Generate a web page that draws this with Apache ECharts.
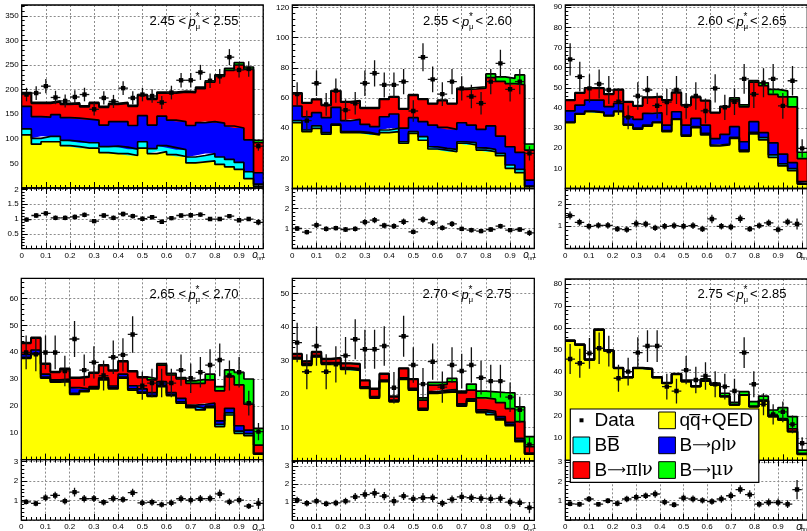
<!DOCTYPE html>
<html><head><meta charset="utf-8">
<script src="https://cdn.jsdelivr.net/npm/echarts@6/dist/echarts.min.js"></script>
<style>html,body{margin:0;padding:0;background:#fff}#c{width:807px;height:531px}</style>
</head><body><div id="c"></div>
<script>
// ---------- bins ----------
const binEdges = ['0','0.04','0.08','0.12','0.16','0.2','0.24','0.28','0.32','0.36','0.4','0.44','0.48','0.52','0.56','0.6','0.64','0.68','0.72','0.76','0.8','0.84','0.88','0.92','0.96','1'];
const binCenters = ['0.02','0.06','0.1','0.14','0.18','0.22','0.26','0.3','0.34','0.38','0.42','0.46','0.5','0.54','0.58','0.62','0.66','0.7','0.74','0.78','0.82','0.86','0.9','0.94','0.98'];
const pLow  = ['2.45','2.55','2.60','2.65','2.70','2.75'];
const pHigh = ['2.55','2.60','2.65','2.70','2.75','2.85'];
const compNames = ['qq\u0305+QED','BB\u0305','B\u27f6\u03c1l\u03bd','B\u27f6\u03c0l\u03bd','B\u27f6\u03bc\u03bd'];

// ---------- panel 1 : 2.45 < p < 2.55 ----------
const p1_qq  = [108,89,94,94,86,84,81,81,72,70,70,66,81,70,74,68,64,51,53,55,48,43,38,19,4];
const p1_bb  = [12,12,11,11,11,11,11,11,12,15,13,13,13,10,12,14,14,12,13,15,15,15,14,14,4];
const p1_rho = [46,44,39,44,46,47,48,46,44,50,52,48,53,48,60,56,57,64,67,65,69,68,70,65,23];
const p1_pi  = [26,27,28,26,27,29,25,34,36,35,37,39,41,52,47,55,60,67,69,80,95,113,128,143,61];
const p1_mu  = [2,2,2,2,2,2,2,2,2,2,2,2,2,2,2,2,2,2,3,3,3,4,5,5,5];
const p1_data = [190,193,207,184,177,185,190,160,183,176,203,183,190,187,174,194,219,219,235,218,227,266,240,242,85];
const p1_err  = [13.8,13.9,14.4,13.6,13.3,13.6,13.8,12.6,13.5,13.3,14.2,13.5,13.8,13.7,13.2,13.9,14.8,14.8,15.3,14.8,15.1,16.3,15.5,15.6,9.2];
const p1_ratio = [0.98,1.12,1.19,1.04,1.04,1.07,1.14,0.93,1.12,1.04,1.17,1.1,1.01,1.06,0.91,1.03,1.12,1.13,1.15,1.0,1.0,1.1,0.96,1.0,0.89];
const p1_ratioErr = [0.07,0.08,0.08,0.08,0.08,0.08,0.08,0.07,0.08,0.08,0.08,0.08,0.07,0.07,0.07,0.07,0.07,0.07,0.07,0.07,0.07,0.07,0.06,0.06,0.1];

// ---------- panel 2 : 2.55 < p < 2.60 ----------
const p2_qq  = [43.6,37.7,39.9,36,42,37,37,36.6,35.5,37,37.7,30,36.6,32,26.2,25.5,24.4,30,28.9,25.5,24.4,21.8,13.4,10.5,1.2];
const p2_bb  = [1.4,1.1,1.6,1,0.7,0.7,0.7,0.7,0.5,1.8,2.2,1,1.1,2.4,1.5,1.1,1.6,1,1.5,1.5,1.6,1.5,2.2,2.2,0.4];
const p2_rho = [9.7,8.8,8.8,10,11.1,7.3,8.2,5.2,5,8.8,9.5,9,9.3,9.9,14.3,13.9,13.2,12.6,11.6,12.2,15.5,11.5,12.1,11.3,4];
const p2_pi  = [8.4,9,8.6,8.1,10.8,12.2,12,10.7,12.2,11.5,11.2,12.6,14.8,14.8,14.1,17.8,16.9,22.1,24,27.3,32,36.2,41.8,44.8,19.9];
const p2_mu  = [0.4,0.4,0.4,0.4,0.4,0.4,0.4,0.4,0.4,0.4,0.4,0.4,0.4,0.4,0.4,0.4,0.4,0.8,1,1,2.5,3,3.5,6.5,4];
const p2_data = [62.6,45,69.8,55.8,64.9,52,56.5,69.8,76.4,68.7,68.7,70.9,51.4,87,72.4,62.6,70.9,66.4,61,56.5,70.9,83,65.8,70.9,23.3];
const p2_err  = [7.9,6.7,8.4,7.5,8.1,7.2,7.5,8.4,8.7,8.3,8.3,8.4,7.2,9.3,8.5,7.9,8.4,8.1,7.8,7.5,8.4,9.1,8.1,8.4,4.8];
const p2_ratio = [1.0,0.82,1.17,0.98,1.02,0.95,0.98,1.32,1.42,1.15,1.12,1.34,0.83,1.45,1.28,1.03,1.23,0.98,0.92,0.87,0.95,1.12,0.92,0.95,0.78];
const p2_ratioErr = [0.12,0.12,0.14,0.13,0.12,0.13,0.13,0.16,0.16,0.14,0.14,0.16,0.12,0.16,0.15,0.13,0.15,0.12,0.12,0.11,0.11,0.12,0.11,0.11,0.16];

// ---------- panel 3 : 2.60 < p < 2.65 ----------
const p3_qq  = [32.7,36.9,38.1,37.6,36,38.1,31.5,29.5,31,32.7,28.2,34.3,26,30.2,26.6,21.1,21.6,24.9,18.3,27.1,24.1,15.5,11.2,8.9,2.2];
const p3_bb  = [0.3,0.3,0.3,0.3,0.3,0.3,0.3,0.5,0.5,0.3,0.5,0.3,0.5,0.5,0.8,0.5,0.5,0.5,0.8,0.8,1.2,1.2,1,1,0.3];
const p3_rho = [5.5,4.2,5.5,6,4.3,3.9,3.8,4.3,5.8,4.6,2.8,3.5,5,4.1,4.1,3.2,4.8,5.3,4.1,5.3,2.4,6,4.9,2.9,0.9];
const p3_pi  = [5.2,5.9,5.8,5.8,6.1,6.6,7.3,6.6,7.8,7.9,12.2,9.4,9.7,10.4,12,12.7,13.6,13.3,17.3,19.6,23.3,24,28.4,27.7,11.4];
const p3_mu  = [0.3,0.3,0.3,0.3,0.3,0.3,0.3,0.3,0.3,0.3,0.3,0.3,0.3,0.3,0.3,0.3,0.3,1,1,0.8,1.5,2.5,3,5,3.2];
const p3_data = [64.1,55.5,49.7,51.9,48.9,43.1,35.3,45.9,48.9,41.1,42.9,48.9,41,45.9,38.5,49.7,40.3,43.1,54.4,46.8,52.5,54.4,41,53.5,19.9];
const p3_err  = [8,7.4,7,7.2,7,6.6,5.9,6.8,7,6.4,6.5,7,6.4,6.8,6.2,7,6.3,6.6,7.4,6.8,7.2,7.4,6.4,7.3,4.5];
const p3_ratio = [1.48,1.18,1.0,1.04,1.04,0.88,0.85,1.12,1.1,0.93,1.0,1.03,1.0,1.03,0.88,1.33,1.0,0.97,1.34,0.88,1.03,1.15,0.85,1.19,1.1];
const p3_ratioErr = [0.18,0.16,0.14,0.14,0.15,0.13,0.14,0.17,0.15,0.14,0.15,0.15,0.15,0.15,0.14,0.19,0.15,0.15,0.18,0.13,0.14,0.15,0.13,0.16,0.25];

// ---------- panel 4 : 2.65 < p < 2.70 ----------
const p4_qq  = [37.7,39.2,30.3,28.8,29,24.3,25.3,26.3,29.7,26.3,30.3,25.9,24.7,23.5,27.2,23.8,21,19.3,18.5,19.3,12.3,16.6,9.8,8.9,2];
const p4_bb  = [0.4,0.4,0.4,0.4,0.4,0.4,0.4,0.4,0.4,0.4,0.4,0.4,0.4,0.4,0.4,0.4,0.5,0.5,0.6,0.6,0.8,0.8,0.8,0.8,0.2];
const p4_rho = [1.1,1.2,1.1,0.5,0.6,2.1,0.6,0.5,0.4,0.7,1.1,1.2,1.2,1,1.4,0.7,1.3,0.5,1.5,1.1,1.3,1.7,2,1.3,0.1];
const p4_pi  = [4.1,4.4,3.7,2.8,3.7,3.5,4.4,5,4.5,5.6,4.7,5.2,4.2,4.8,6.2,6.6,7.2,8.1,7.8,8.7,11.2,11.8,15.2,9.6,3.1];
const p4_mu  = [0.3,0.3,0.3,0.3,0.3,0.3,0.3,0.3,0.3,0.3,0.3,0.3,0.3,0.5,0.5,0.6,0.5,0.9,1.5,2.1,1.6,2.5,4.7,9.4,6.2];
const p4_data = [39.9,39.2,39.9,39.9,33,44.9,33.3,36.2,31.3,38.1,39,46.6,27.5,28.5,28.5,28.5,33.3,30.3,32.5,35.2,37.1,31.3,32.5,21,10.4];
const p4_err  = [6.3,6.3,6.3,6.3,5.7,6.7,5.8,6,5.6,6.2,6.2,6.8,5.2,5.3,5.3,5.3,5.8,5.5,5.7,5.9,6.1,5.6,5.7,4.6,3.2];
const p4_ratio = [0.93,0.85,1.14,1.26,0.97,1.43,1.09,1.1,0.91,1.1,1.05,1.4,0.88,0.91,0.79,0.88,1.09,1.02,1.09,1.1,1.34,0.93,1.02,0.71,0.85];
const p4_ratioErr = [0.14,0.14,0.18,0.19,0.17,0.22,0.19,0.18,0.16,0.19,0.17,0.21,0.17,0.18,0.15,0.17,0.19,0.19,0.19,0.19,0.22,0.17,0.18,0.15,0.28];

// ---------- panel 5 : 2.70 < p < 2.75 ----------
const p5_qq  = [30.4,28.5,31,28.8,28.8,27.3,27,21.6,18.7,23.6,17.6,24.3,21.1,15.1,20.1,20.4,20.6,16.3,17.8,14.4,13.8,12.2,10.5,5.7,2];
const p5_bb  = [0.2,0.2,0.2,0.2,0.2,0.2,0.2,0.2,0.2,0.2,0.2,0.2,0.2,0.3,0.3,0.3,0.3,0.3,0.3,0.3,0.4,0.4,0.4,0.4,0.1];
const p5_rho = [0.3,0.3,0.3,0.3,0.3,0.3,0.3,0.3,0.3,0.3,0.3,0.3,0.3,0.3,0.3,0.4,0.4,0.4,0.4,0.5,0.6,0.6,0.6,0.6,0.2];
const p5_pi  = [0.9,0.6,0.9,1,1.3,1.2,1.3,1.8,2.2,1.8,1,2.7,2.7,2.4,1.9,1.7,2.3,3.3,2.6,3.6,3.6,4.2,4.1,5,1.9];
const p5_mu  = [0.2,0.2,0.2,0.2,0.2,0.2,0.2,0.2,0.2,0.2,0.2,0.2,0.2,0.7,0.8,0.6,1,0.5,1.8,2,2.2,3,4.7,4.4,3];
const p5_data = [35.3,26.6,34.3,26.6,28.8,31.4,36.3,33.3,33.3,34.3,21.8,37.2,28.6,22.9,29.6,22,28.6,26.8,28.6,24.8,23.8,23.8,19,15.2,4.8];
const p5_err  = [5.9,5.2,5.9,5.2,5.4,5.6,6,5.8,5.8,5.9,4.7,6.1,5.3,4.8,5.4,4.7,5.3,5.2,5.3,5,4.9,4.9,4.4,3.9,2.2];
const p5_ratio = [1.11,0.93,1.05,0.91,0.95,1.05,1.29,1.42,1.49,1.33,1.05,1.33,1.18,1.24,1.24,0.93,1.15,1.29,1.24,1.2,1.18,1.2,1.0,0.96,0.69];
const p5_ratioErr = [0.18,0.18,0.18,0.17,0.18,0.19,0.21,0.24,0.27,0.23,0.25,0.22,0.22,0.26,0.23,0.2,0.22,0.25,0.23,0.24,0.24,0.24,0.22,0.24,0.31];

// ---------- panel 6 : 2.75 < p < 2.85 ----------
const p6_qq  = [54.1,52.3,45.5,59.1,49.6,41.7,37.5,41.7,41.3,37.5,34.9,39,35.7,33.4,36,34.2,28.9,25.1,29.5,24.3,26.9,19.8,18.3,13,2.7];
const p6_bb  = [0.05,0.05,0.05,0.05,0.05,0.05,0.05,0.05,0.05,0.05,0.05,0.05,0.05,0.05,0.05,0.05,0.05,0.05,0.05,0.05,0.05,0.05,0.05,0.05,0.05];
const p6_rho = [0.05,0.05,0.05,0.05,0.05,0.05,0.05,0.05,0.05,0.05,0.05,0.05,0.05,0.05,0.05,0.05,0.05,0.05,0.05,0.05,0.05,0.05,0.05,0.05,0.05];
const p6_pi  = [0.1,0.1,0.1,0.1,0.1,0.1,0.1,0.1,0.1,0.1,0.1,0.1,0.1,0.1,0.1,0.1,0.1,0.1,0.1,0.1,0.3,0.4,0.5,1.2,0.3];
const p6_mu  = [0.15,0.15,0.15,0.15,0.15,0.15,0.15,0.15,0.15,0.15,0.15,0.15,0.5,0.2,0.7,0.6,1.3,1,1.4,2.1,1.8,2.5,5,5.5,1.5];
const p6_data = [45.9,44,48.5,50.8,49.5,37.2,40.2,48.8,51.8,51.8,33.4,31.4,40.9,36.4,38.2,34.5,33.4,31.4,48.8,34.5,25.4,20.8,22,16.3,7.7];
const p6_err  = [6.8,6.6,7,7.1,7,6.1,6.3,7,7.2,7.2,5.8,5.6,6.4,6,6.2,5.9,5.8,5.6,7,5.9,5,4.6,4.7,4,2.8];
const p6_ratio = [0.84,0.82,1.09,0.82,1.0,0.86,1.09,1.18,1.26,1.35,0.93,0.79,1.14,1.09,1.02,0.96,1.09,1.26,1.58,1.32,0.82,0.91,0.91,0.82,1.58];
const p6_ratioErr = [0.13,0.13,0.15,0.12,0.14,0.15,0.17,0.17,0.17,0.19,0.17,0.14,0.18,0.18,0.16,0.17,0.19,0.21,0.22,0.22,0.17,0.2,0.2,0.2,0.5];

// ---------- assembly ----------
const panels = [
  {comps:[p1_qq,p1_bb,p1_rho,p1_pi,p1_mu], data:p1_data, err:p1_err, ratio:p1_ratio, ratioErr:p1_ratioErr},
  {comps:[p2_qq,p2_bb,p2_rho,p2_pi,p2_mu], data:p2_data, err:p2_err, ratio:p2_ratio, ratioErr:p2_ratioErr},
  {comps:[p3_qq,p3_bb,p3_rho,p3_pi,p3_mu], data:p3_data, err:p3_err, ratio:p3_ratio, ratioErr:p3_ratioErr},
  {comps:[p4_qq,p4_bb,p4_rho,p4_pi,p4_mu], data:p4_data, err:p4_err, ratio:p4_ratio, ratioErr:p4_ratioErr},
  {comps:[p5_qq,p5_bb,p5_rho,p5_pi,p5_mu], data:p5_data, err:p5_err, ratio:p5_ratio, ratioErr:p5_ratioErr},
  {comps:[p6_qq,p6_bb,p6_rho,p6_pi,p6_mu], data:p6_data, err:p6_err, ratio:p6_ratio, ratioErr:p6_ratioErr}
];
const compColors = ['#ffff00','#00ffff','#0000ff','#ff0000','#00ff00'];
const layout = [
  {left:21.7,  width:241.5, mainTop:5,     mainH:183,   ratioH:60.6},
  {left:292.3, width:242,   mainTop:5,     mainH:183.5, ratioH:60},
  {left:565.3, width:242,   mainTop:5,     mainH:183.5, ratioH:60},
  {left:21.3,  width:242,   mainTop:278.3, mainH:181.3, ratioH:60.6},
  {left:292.3, width:242,   mainTop:278.3, mainH:182.5, ratioH:59.5},
  {left:565.3, width:242,   mainTop:279,   mainH:181.3, ratioH:59.7}
];
const axisCfg = [
  {yMax:372,   yInt:50, rMax:2.05, rInt:0.5, rShowMax:false},
  {yMax:121.7, yInt:20, rMax:3,    rInt:1,   rShowMax:true},
  {yMax:91.1,  yInt:10, rMax:2.7,  rInt:1,   rShowMax:false},
  {yMax:67.5,  yInt:10, rMax:3.1,  rInt:1,   rShowMax:false},
  {yMax:54.5,  yInt:10, rMax:3.3,  rInt:1,   rShowMax:false},
  {yMax:82.2,  yInt:10, rMax:3.1,  rInt:1,   rShowMax:false}
];
const titlePos = [[186,21],[459.5,21],[734,21],[186,294],[459,294],[734,294]];
const FONT = '"Liberation Sans", Arial, Helvetica, sans-serif';
const gridLine = {show:true, lineStyle:{color:'#8c8c8c', type:[2,2], width:1}};

const grids = [], xAxes = [], yAxes = [], series = [], graphic = [];

function valueX(g, opts) {
  return Object.assign({
    type:'value', gridIndex:g, min:0, max:1, interval:0.1, position:'bottom',
    axisLine:{show:false, onZero:false},
    axisTick:{show:false, inside:true, length:6, lineStyle:{color:'#000'}},
    minorTick:{show:false, splitNumber:5, length:3, lineStyle:{color:'#000'}},
    splitLine:{show:false},
    axisLabel:{show:false, fontSize:8, color:'#000', margin:4, fontFamily:FONT}
  }, opts);
}

function errorSeries(xi, yi, vals, errs) {
  return {
    type:'custom', xAxisIndex:xi, yAxisIndex:yi, clip:true, z:6, silent:true,
    data: vals.map((v,i)=>[i, v, errs[i]]),
    renderItem(params, api) {
      const x = api.value(0), y = api.value(1), e = api.value(2);
      const c = api.coord([x, y]);
      const lo = api.coord([x, y - e]);
      const hi = api.coord([x, y + e]);
      const hw = api.size([1, 0])[0] / 2;
      return {type:'group', children:[
        {type:'line', shape:{x1:c[0], y1:lo[1], x2:c[0], y2:hi[1]}, style:{stroke:'#111', lineWidth:1.3}},
        {type:'line', shape:{x1:c[0]-hw, y1:c[1], x2:c[0]+hw, y2:c[1]}, style:{stroke:'#111', lineWidth:1.3}},
        {type:'rect', shape:{x:c[0]-2.2, y:c[1]-2.2, width:4.4, height:4.4}, style:{fill:'#000'}}
      ]};
    }
  };
}

panels.forEach((D, p) => {
  const L = layout[p], A = axisCfg[p];
  const gM = grids.length;
  grids.push({left:L.left, top:L.mainTop, width:L.width, height:L.mainH, show:false});
  const gR = grids.length;
  grids.push({left:L.left, top:L.mainTop + L.mainH, width:L.width, height:L.ratioH, show:false});

  const xEdge = xAxes.length; xAxes.push({type:'category', gridIndex:gM, data:binEdges, boundaryGap:false, show:false, position:'top'});
  const xBin  = xAxes.length; xAxes.push({type:'category', gridIndex:gM, data:binCenters, boundaryGap:true, show:false, position:'top'});
  xAxes.push(valueX(gM, {splitLine:gridLine, z:0}));
  xAxes.push(valueX(gM, {z:8, axisTick:{show:true, inside:true, length:6, lineStyle:{color:'#000'}}, minorTick:{show:true, splitNumber:5, length:3, lineStyle:{color:'#000'}}}));
  const xBinR = xAxes.length; xAxes.push({type:'category', gridIndex:gR, data:binCenters, boundaryGap:true, show:false, position:'top'});
  xAxes.push(valueX(gR, {splitLine:gridLine,
    axisTick:{show:true, inside:true, length:6, lineStyle:{color:'#000'}},
    minorTick:{show:true, splitNumber:5, length:3, lineStyle:{color:'#000'}},
    axisLabel:{show:true, fontSize:8, color:'#000', margin:3, fontFamily:FONT}}));
  xAxes.push(valueX(gR, {position:'top', z:8,
    axisTick:{show:true, inside:true, length:6, lineStyle:{color:'#000'}},
    minorTick:{show:true, splitNumber:5, length:3, lineStyle:{color:'#000'}}}));

  const yM = yAxes.length;
  yAxes.push({type:'value', gridIndex:gM, min:0, max:A.yMax, interval:A.yInt, position:'left',
    axisLine:{show:false, onZero:false},
    axisTick:{show:true, inside:true, length:6, lineStyle:{color:'#000'}},
    minorTick:{show:true, splitNumber:5, length:3, lineStyle:{color:'#000'}},
    splitLine:gridLine,
    axisLabel:{fontSize:8, color:'#000', margin:3, fontFamily:FONT, showMinLabel:false, showMaxLabel:false}});
  const yR = yAxes.length;
  yAxes.push({type:'value', gridIndex:gR, min:0, max:A.rMax, interval:A.rInt, position:'left',
    axisLine:{show:false, onZero:false},
    axisTick:{show:true, inside:true, length:6, lineStyle:{color:'#000'}},
    minorTick:{show:true, splitNumber:5, length:3, lineStyle:{color:'#000'}},
    splitLine:gridLine,
    axisLabel:{fontSize:8, color:'#000', margin:3, fontFamily:FONT, showMinLabel:false, showMaxLabel:A.rShowMax}});

  // stacked fills
  D.comps.forEach((vals, k) => {
    series.push({type:'line', name:compNames[k], xAxisIndex:xEdge, yAxisIndex:yM, stack:'fill'+p, step:'end',
      symbol:'none', data:vals.concat([vals[vals.length-1]]), lineStyle:{width:0, opacity:0},
      areaStyle:{color:compColors[k], opacity:1}, z:2, silent:true});
  });
  // stacked outlines
  D.comps.forEach((vals, k) => {
    series.push({type:'line', name:compNames[k], xAxisIndex:xEdge, yAxisIndex:yM, stack:'line'+p, step:'end',
      symbol:'none', data:vals.concat([vals[vals.length-1]]), lineStyle:{color:'#000', width:1.7},
      z:4, silent:true});
  });
  series.push(errorSeries(xBin, yM, D.data, D.err));
  series.push(errorSeries(xBinR, yR, D.ratio, D.ratioErr));

  // frames
  graphic.push({type:'rect', silent:true, z:100, shape:{x:L.left, y:L.mainTop, width:L.width, height:L.mainH}, style:{fill:null, stroke:'#000', lineWidth:1.3}});
  graphic.push({type:'rect', silent:true, z:100, shape:{x:L.left, y:L.mainTop+L.mainH, width:L.width, height:L.ratioH}, style:{fill:null, stroke:'#000', lineWidth:1.3}});

  // title
  const [tx, ty] = titlePos[p];
  graphic.push({type:'text', silent:true, z:90, x:tx, y:ty, style:{text:pLow[p]+' <', fontSize:13, fontFamily:FONT, fill:'#000', align:'right', verticalAlign:'middle'}});
  graphic.push({type:'text', silent:true, z:90, x:tx+2.5, y:ty+1, style:{text:'p', fontSize:13, fontStyle:'italic', fontFamily:FONT, fill:'#000', align:'left', verticalAlign:'middle'}});
  graphic.push({type:'text', silent:true, z:90, x:tx+9.5, y:ty-4, style:{text:'*', fontSize:10, fontFamily:FONT, fill:'#000', align:'left', verticalAlign:'middle'}});
  graphic.push({type:'text', silent:true, z:90, x:tx+9.5, y:ty+6, style:{text:'\u03bc', fontSize:8, fontFamily:FONT, fill:'#000', align:'left', verticalAlign:'middle'}});
  graphic.push({type:'text', silent:true, z:90, x:tx+16, y:ty, style:{text:'< '+pHigh[p], fontSize:13, fontFamily:FONT, fill:'#000', align:'left', verticalAlign:'middle'}});

  // x-axis title
  const nx = L.left + L.width - 11, ny = L.mainTop + L.mainH + L.ratioH + 7;
  graphic.push({type:'text', silent:true, z:90, x:nx, y:ny, style:{text:'o', fontSize:10, fontStyle:'italic', fontFamily:FONT, fill:'#000', align:'left', verticalAlign:'middle'}});
  graphic.push({type:'text', silent:true, z:90, x:nx+5, y:ny+3, style:{text:'nn', fontSize:5, fontFamily:FONT, fill:'#000', align:'left', verticalAlign:'middle'}});
});

// legend box (in the last panel)
const legItems = [
  {label:'{n|Data}', marker:'data', col:0, row:0},
  {label:'{n|qq\u0305+QED}', color:compColors[0], col:1, row:0},
  {label:'{n|BB\u0305}', color:compColors[1], col:0, row:1},
  {label:'{n|B}{a|\u27f6}{g|\u03c1}{n|l}{g|\u03bd}', color:compColors[2], col:1, row:1},
  {label:'{n|B}{a|\u27f6}{g|\u03c0}{n|l}{g|\u03bd}', color:compColors[3], col:0, row:2},
  {label:'{n|B}{a|\u27f6}{g|\u03bc\u03bd}', color:compColors[4], col:1, row:2}
];
const legRich = {
  n:{fontSize:19, fontFamily:FONT, fill:'#000'},
  a:{fontSize:13, fontFamily:'"DejaVu Sans", sans-serif', fill:'#000'},
  g:{fontSize:18, fontFamily:'"DejaVu Serif", "Liberation Serif", serif', fill:'#000'}
};
graphic.push({type:'rect', silent:true, z:110, shape:{x:570.3, y:409, width:188.5, height:73.3}, style:{fill:'#fff', stroke:'#000', lineWidth:1.2}});
const colBox = [573, 658.7], colText = [594.5, 679.5], rowY = [420.3, 445.3, 470];
legItems.forEach(it => {
  const y = rowY[it.row];
  if (it.marker === 'data') {
    graphic.push({type:'rect', silent:true, z:111, shape:{x:579.5, y:y-2, width:4, height:4}, style:{fill:'#000'}});
  } else {
    graphic.push({type:'rect', silent:true, z:111, shape:{x:colBox[it.col], y:y-8.3, width:16.7, height:16.7}, style:{fill:it.color, stroke:'#000', lineWidth:1}});
  }
  graphic.push({type:'text', silent:true, z:112, x:colText[it.col], y:y+0.5, style:{text:it.label, rich:legRich, fontSize:19, fontFamily:FONT, fill:'#000', align:'left', verticalAlign:'middle'}});
});

const chart = echarts.init(document.getElementById('c'), null, {renderer:'canvas'});
chart.setOption({
  animation:false,
  backgroundColor:'#fff',
  grid:grids, xAxis:xAxes, yAxis:yAxes, series:series, graphic:graphic
});
</script>
</body></html>
